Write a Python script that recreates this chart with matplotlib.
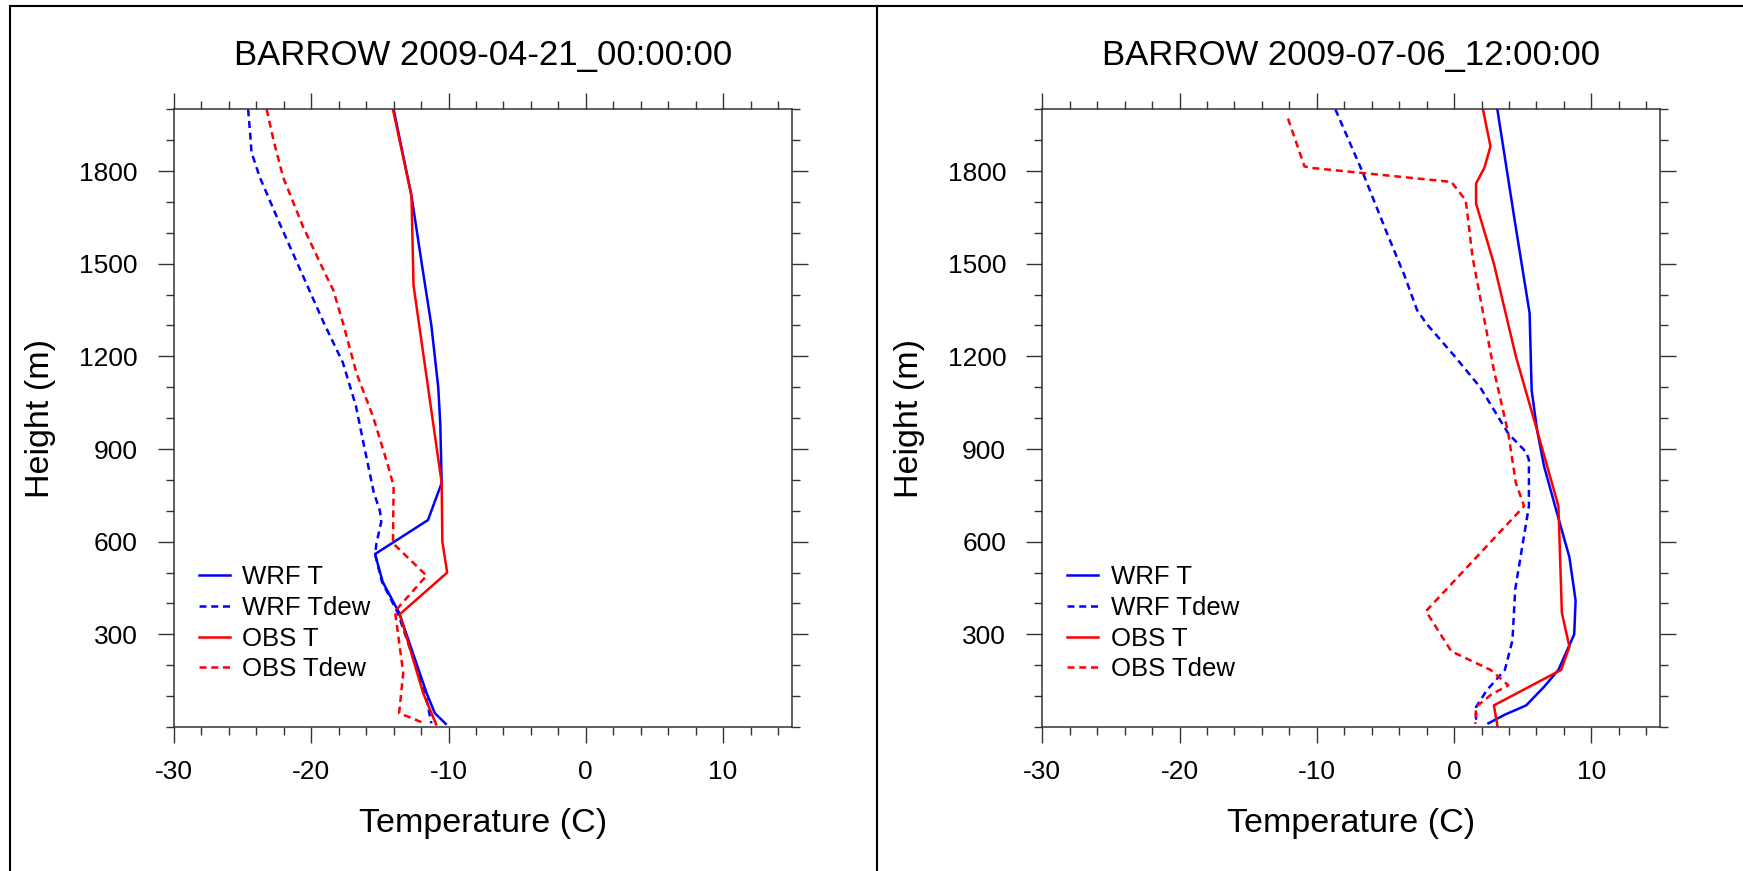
import numpy as np
import matplotlib
matplotlib.use("Agg")
import matplotlib.pyplot as plt
from matplotlib.lines import Line2D
from matplotlib.ticker import MultipleLocator, FixedLocator

plt.rcParams['font.family'] = ['Liberation Sans', 'DejaVu Sans']
plt.rcParams['axes.unicode_minus'] = False

# Panel 1: BARROW 2009-04-21_00:00:00  (height m, temperature C)
wrf_t_h1 = [2000, 1720, 1500, 1300, 1100, 980, 790, 670, 560, 470, 370, 110, 45, 10]
wrf_t_1 = [-14.0, -12.7, -11.95, -11.25, -10.75, -10.6, -10.5, -11.5, -15.35, -14.8, -13.6, -11.6, -11.0, -10.2]
wrf_td_h1 = [2000, 1920, 1860, 1780, 1630, 1460, 1310, 1180, 1040, 920, 760, 700, 665, 595, 560, 470, 370, 110, 12]
wrf_td_1 = [-24.6, -24.45, -24.35, -23.75, -22.3, -20.6, -19.1, -17.7, -16.75, -16.2, -15.45, -15.0, -14.9,
            -15.25, -15.35, -14.85, -13.7, -11.7, -11.25]
obs_t_h1 = [2000, 1720, 1430, 790, 600, 500, 365, 110, 8]
obs_t_1 = [-14.05, -12.7, -12.55, -10.5, -10.45, -10.1, -13.55, -11.85, -10.9]
obs_td_h1 = [2000, 1900, 1780, 1620, 1460, 1415, 1310, 1145, 1005, 845, 780, 595, 490, 375, 175, 45, 10]
obs_td_1 = [-23.25, -22.75, -22.05, -20.6, -18.9, -18.4, -17.7, -16.7, -15.5, -14.4, -14.0, -14.05,
            -11.6, -13.9, -13.3, -13.6, -11.65]

# Panel 2: BARROW 2009-07-06_12:00:00
wrf_t_h2 = [2000, 1630, 1340, 1090, 960, 845, 700, 550, 410, 300, 250, 185, 130, 70, 40, 12]
wrf_t_2 = [3.15, 4.45, 5.5, 5.65, 6.05, 6.55, 7.45, 8.4, 8.85, 8.75, 8.25, 7.6, 6.55, 5.25, 3.7, 2.5]
wrf_td_h2 = [2000, 1800, 1600, 1460, 1350, 1305, 1200, 1100, 950, 890, 865, 715, 445, 280, 185, 120, 65, 12]
wrf_td_2 = [-8.65, -6.7, -4.9, -3.6, -2.7, -2.0, 0.05, 1.9, 3.95, 5.25, 5.45, 5.45, 4.45, 4.25, 3.7, 2.4, 1.6, 1.6]
obs_t_h2 = [2000, 1880, 1810, 1760, 1695, 1500, 1200, 960, 715, 370, 260, 185, 70, 5]
obs_t_2 = [2.1, 2.65, 2.2, 1.6, 1.6, 2.9, 4.5, 6.05, 7.6, 7.85, 8.4, 7.8, 2.9, 3.15]
obs_td_h2 = [1970, 1815, 1810, 1765, 1705, 1520, 1155, 950, 790, 715, 375, 245, 185, 135, 105, 65, 10]
obs_td_2 = [-12.1, -10.9, -10.35, -0.2, 0.85, 1.35, 2.9, 3.95, 4.5, 5.1, -2.05, -0.2, 2.65, 3.95, 2.7, 1.6, 1.55]

titles = ["BARROW 2009-04-21_00:00:00", "BARROW 2009-07-06_12:00:00"]
labels = ["WRF T", "WRF Tdew", "OBS T", "OBS Tdew"]

panels = [
    [(wrf_t_1, wrf_t_h1), (wrf_td_1, wrf_td_h1), (obs_t_1, obs_t_h1), (obs_td_1, obs_td_h1)],
    [(wrf_t_2, wrf_t_h2), (wrf_td_2, wrf_td_h2), (obs_t_2, obs_t_h2), (obs_td_2, obs_td_h2)],
]
colors = ['#0000ff', '#0000ff', '#ff0000', '#ff0000']
dash = (0, (2.8, 1.9))
styles = ['-', dash, '-', dash]

W, H = 1743, 871
fig = plt.figure(figsize=(W / 100, H / 100), dpi=100)

ax_left_px = [174, 1042.3]
ax_size = 617.7
ax_bottom_px = 727

for i in range(2):
    ax = fig.add_axes([ax_left_px[i] / W, (H - ax_bottom_px) / H, ax_size / W, ax_size / H])
    for (t, h), c, ls, lab in zip(panels[i], colors, styles, labels):
        ax.plot(t, h, color=c, linestyle=ls, lw=1.8, label=lab)

    ax.set_xlim(-30, 15)
    ax.set_ylim(0, 2000)
    ax.xaxis.set_major_locator(FixedLocator([-30, -20, -10, 0, 10]))
    ax.xaxis.set_minor_locator(MultipleLocator(2))
    ax.yaxis.set_major_locator(FixedLocator([300, 600, 900, 1200, 1500, 1800]))
    ax.yaxis.set_minor_locator(MultipleLocator(100))
    ax.tick_params(which='both', direction='out', top=True, right=True, width=1.0, color='#333333')
    ax.tick_params(which='major', length=11.5)
    ax.tick_params(which='minor', length=5.8)
    ax.tick_params(axis='x', which='major', labelsize=19, pad=12)
    ax.tick_params(axis='y', which='major', labelsize=19, pad=14.5)
    for s in ax.spines.values():
        s.set_linewidth(1.1)
        s.set_color('#333333')

    ax.text(0.5, 1 + 44 / ax_size, titles[i], transform=ax.transAxes, ha='center', va='baseline', fontsize=25)
    ax.text(0.5, -105 / ax_size, "Temperature (C)", transform=ax.transAxes, ha='center', va='baseline', fontsize=24.5)
    ax.text(-133 / ax_size, 0.5, "Height (m)", transform=ax.transAxes, ha='center', va='center',
            rotation=90, fontsize=24.5)

    ax.legend(loc='center left', bbox_to_anchor=(0.04, 0.168), frameon=False, fontsize=18.5,
              handlelength=1.2, handletextpad=0.5, labelspacing=0.26, borderpad=0, borderaxespad=0)

# outer frame lines
fig.add_artist(Line2D([10 / W, 1], [1 - 6 / H, 1 - 6 / H], color='k', lw=1.5))
fig.add_artist(Line2D([10 / W, 10 / W], [0, 1 - 6 / H], color='k', lw=1.5))
fig.add_artist(Line2D([877.5 / W, 877.5 / W], [0, 1 - 6 / H], color='k', lw=1.5))

fig.savefig("out.png", dpi=100)
